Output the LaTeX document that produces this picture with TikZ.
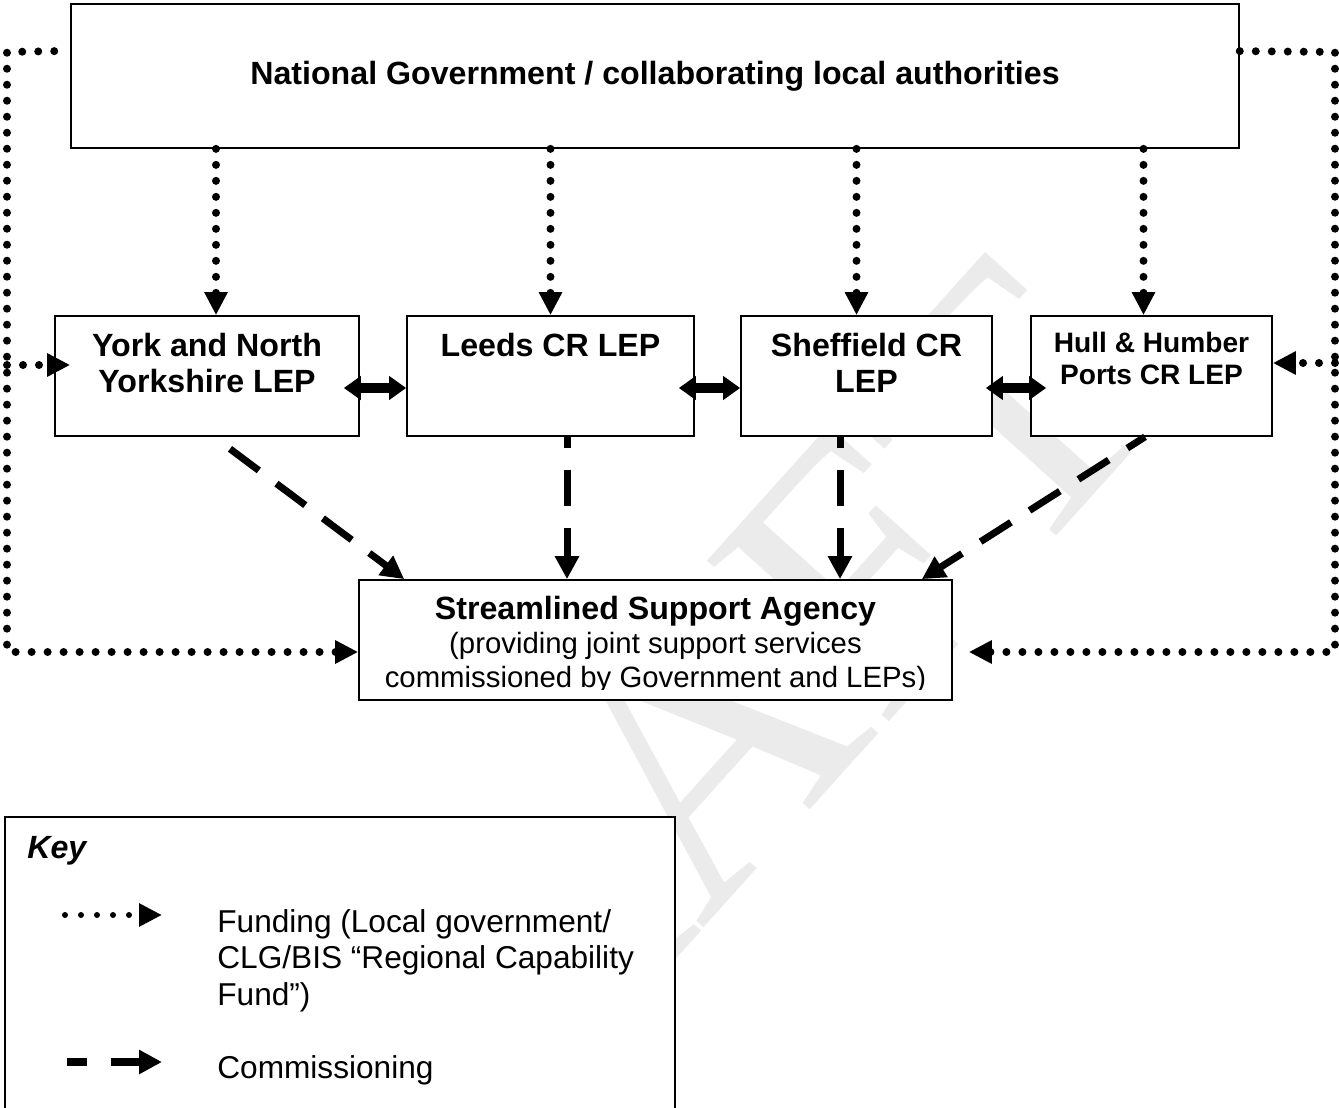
\documentclass[tikz,border=0pt]{standalone}
\usepackage{fontspec}
\setmainfont{Liberation Sans}
\newfontfamily\wmfont{Liberation Serif}
\usetikzlibrary{arrows.meta,calc}

\tikzset{
  box/.style={draw,fill=white,line width=1pt,rectangle,minimum height=2.4cm,inner sep=0pt},
  boxlabel/.style={anchor=north,inner sep=0pt,align=center,font=\fontsize{18.3}{20.5}\selectfont\bfseries},
  fund/.style={line width=0.16cm,line cap=round,dash pattern=on 0cm off 0.32cm,
    -{Triangle[length=0.46cm,width=0.44cm]}},
  commission/.style={line width=0.14cm,dash pattern=on 0.72cm off 0.44cm,
    -{Triangle[length=0.46cm,width=0.46cm]}},
  link/.style={line width=0.2cm,
    {Triangle[length=0.34cm,width=0.46cm]}-{Triangle[length=0.34cm,width=0.46cm]}}
}

\begin{document}
\begin{tikzpicture}[x=0.02cm,y=-0.02cm]
  \useasboundingbox (0,0) rectangle (1339,1108);

  % watermark
  \node[rotate=48,text=gray!16,font=\wmfont\fontsize{211}{211}\selectfont] (draft) at (673,780) {DRAFT};

  % boxes
  \node[box,minimum width=23.36cm,minimum height=2.88cm,font=\fontsize{18.3}{20.5}\selectfont\bfseries]
    (gov) at (655,76) {National Government / collaborating local authorities};
  \node[box,minimum width=6.08cm] (york) at (207,376) {};
  \node[box,minimum width=5.74cm] (leeds) at (550.5,376) {};
  \node[box,minimum width=5.02cm] (sheff) at (866.5,376) {};
  \node[box,minimum width=4.82cm] (hull) at (1151.5,376) {};
  \node[box,minimum width=11.86cm] (agency) at (655.5,640) {};
  \node[box,minimum width=13.4cm,minimum height=6cm] (keybox) at (340,967) {};

  \node[boxlabel] (yorklbl) at ([yshift=-0.36cm]york.north) {York and North\\Yorkshire LEP};
  \node[boxlabel] (leedslbl) at ([yshift=-0.36cm]leeds.north) {Leeds CR LEP};
  \node[boxlabel] (shefflbl) at ([yshift=-0.36cm]sheff.north) {Sheffield CR\\LEP};
  \node[boxlabel,font=\fontsize{16}{18.2}\selectfont\bfseries] (hulllbl)
    at ([yshift=-0.33cm]hull.north) {Hull \& Humber\\Ports CR LEP};
  \begin{scope}
    \clip (agency.north west) rectangle ([yshift=0.22cm]agency.south east);
    \node[boxlabel,font=\fontsize{16.7}{19.4}\selectfont] (agencylbl) at ([yshift=-0.33cm]agency.north)
      {{\fontsize{18.3}{19.4}\selectfont\bfseries Streamlined Support Agency}\\
       (providing joint support services\\commissioned by Government and LEPs)};
  \end{scope}

  % funding
  \foreach \lep/\dx in {york/9,leeds/0,sheff/-10,hull/-8}{
    \coordinate (\lep-in) at ($(\lep.north)+(\dx,0)$);
    \draw[fund] (\lep-in |- gov.south) -- (\lep-in);
  }
  \coordinate (lrail) at (7,52);
  \coordinate (rrail) at (1335,52);
  \coordinate (yorkfund) at ($(york.west)+(16,-11)$);
  \coordinate (hullfund) at ($(hull.east)+(0,-13)$);
  \draw[fund] ($(gov.north west)+(-16,48)$) -- (lrail) |- ($(agency.west)+(0,12)$);
  \draw[fund] ($(gov.north east)+(0,48)$) -- (rrail) |- ($(agency.east)+(16,12)$);
  \draw[fund] (lrail |- yorkfund) -- (yorkfund);
  \draw[fund] (rrail |- hullfund) -- (hullfund);

  % links between LEPs
  \foreach \a/\b/\da/\db in {york/leeds/-16/0,leeds/sheff/-16/0,sheff/hull/-7/16}
    \draw[link] ($(\a.east)+(\da,12)$) -- ($(\b.west)+(\db,12)$);

  % commissioning
  \coordinate (leedsout) at ($(leeds.south)+(16.5,0)$);
  \coordinate (sheffout) at ($(sheff.south)+(-26.5,0)$);
  \draw[commission] ($(york.south)+(23,12)$) -- ($(agency.north west)+(46,0)$);
  \draw[commission,dash phase=0.5cm] (leedsout) -- (leedsout |- agency.north);
  \draw[commission,dash phase=0.5cm] (sheffout) -- (sheffout |- agency.north);
  \draw[commission,dash phase=0.3cm] ($(hull.south)+(-6.5,0)$) -- ($(agency.north east)+(-31,0)$);

  % key
  \node[anchor=base west,inner sep=0pt,font=\fontsize{18.3}{21}\selectfont\bfseries\itshape]
    (keyttl) at (27,858) {Key};
  \node[anchor=north west,inner sep=0pt,align=left,font=\fontsize{18}{20.8}\selectfont]
    (fundtxt) at (217,909) {Funding (Local government/\\CLG/BIS “Regional Capability\\Fund”)};
  \node[anchor=base west,inner sep=0pt,font=\fontsize{18}{20.8}\selectfont]
    (commtxt) at (217,1078) {Commissioning};
  \coordinate (fundfrom) at (65,915);
  \coordinate (fundto) at (162,915);
  \coordinate (commfrom) at (67,1062);
  \coordinate (commto) at (162,1062);
  \draw[fund,line width=0.12cm] (fundfrom) -- (fundto);
  \draw[commission,line width=0.16cm,dash pattern=on 0.4cm off 0.48cm on 1cm] (commfrom) -- (commto);
\end{tikzpicture}
\end{document}
